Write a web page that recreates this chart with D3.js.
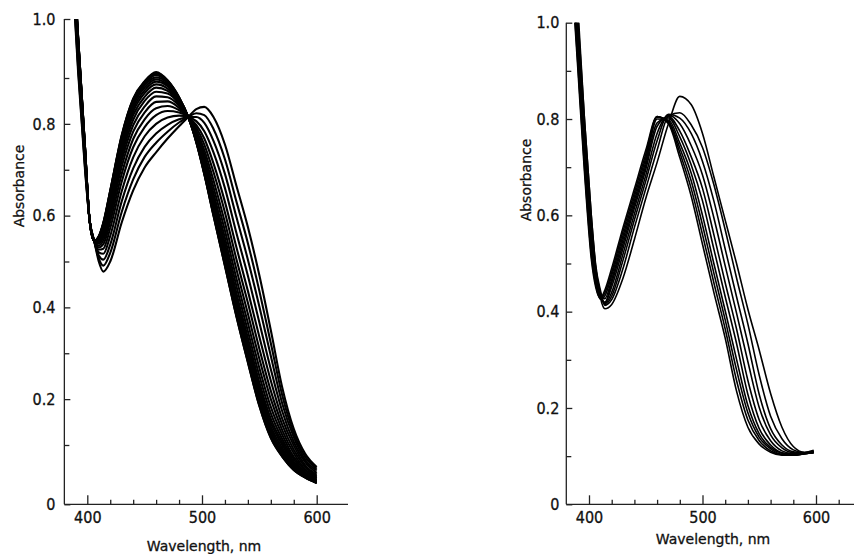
<!DOCTYPE html>
<html>
<head>
<meta charset="utf-8">
<script src="https://cdn.jsdelivr.net/npm/d3@7"></script>
<style>
  body { margin: 0; background: #fff; }
  .tick-label { font-family: "Liberation Sans Narrow", "DejaVu Sans Condensed", sans-serif; font-size: 16px; fill: #111; stroke: #111; stroke-width: 0.3; }
  .axis-title { font-family: "DejaVu Sans", sans-serif; font-size: 14px; fill: #111; stroke: #111; stroke-width: 0.3; }
</style>
</head>
<body>
<svg id="chart" width="854" height="554"></svg>
<script>
// --- data: left panel (wavelength grid + one row of absorbances per spectrum) ---
const leftWavelengths = [386, 392, 398, 402, 406, 410, 414, 420, 430, 440, 450, 460, 470, 480, 488, 495, 502, 510, 520, 530, 540, 550, 560, 570, 580, 590, 600];
const leftSpectra = [
  [1.170, 0.970, 0.750, 0.590, 0.545, 0.555, 0.585, 0.655, 0.775, 0.855, 0.893, 0.910, 0.895, 0.858, 0.815, 0.760, 0.690, 0.600, 0.490, 0.380, 0.280, 0.185, 0.115, 0.080, 0.058, 0.045, 0.036],
  [1.170, 0.970, 0.750, 0.590, 0.545, 0.555, 0.584, 0.654, 0.774, 0.854, 0.892, 0.909, 0.894, 0.858, 0.815, 0.760, 0.691, 0.601, 0.491, 0.381, 0.281, 0.186, 0.116, 0.081, 0.058, 0.045, 0.036],
  [1.169, 0.969, 0.749, 0.590, 0.545, 0.554, 0.583, 0.653, 0.772, 0.852, 0.890, 0.907, 0.893, 0.857, 0.815, 0.761, 0.692, 0.603, 0.494, 0.384, 0.284, 0.189, 0.119, 0.082, 0.059, 0.046, 0.036],
  [1.168, 0.968, 0.749, 0.590, 0.545, 0.553, 0.582, 0.650, 0.769, 0.849, 0.887, 0.905, 0.891, 0.856, 0.815, 0.762, 0.694, 0.606, 0.498, 0.389, 0.289, 0.194, 0.122, 0.084, 0.060, 0.046, 0.037],
  [1.167, 0.967, 0.748, 0.590, 0.545, 0.552, 0.580, 0.647, 0.766, 0.845, 0.884, 0.901, 0.889, 0.855, 0.815, 0.764, 0.697, 0.611, 0.503, 0.394, 0.295, 0.199, 0.127, 0.087, 0.062, 0.047, 0.037],
  [1.166, 0.966, 0.746, 0.590, 0.545, 0.551, 0.577, 0.643, 0.761, 0.840, 0.879, 0.897, 0.885, 0.853, 0.815, 0.765, 0.701, 0.616, 0.510, 0.401, 0.302, 0.206, 0.133, 0.091, 0.064, 0.048, 0.038],
  [1.164, 0.964, 0.745, 0.590, 0.545, 0.549, 0.574, 0.639, 0.755, 0.834, 0.873, 0.892, 0.882, 0.851, 0.815, 0.768, 0.705, 0.623, 0.518, 0.410, 0.311, 0.215, 0.140, 0.095, 0.066, 0.049, 0.039],
  [1.162, 0.962, 0.743, 0.590, 0.545, 0.547, 0.570, 0.633, 0.748, 0.827, 0.867, 0.886, 0.877, 0.849, 0.815, 0.770, 0.711, 0.630, 0.527, 0.420, 0.321, 0.225, 0.148, 0.100, 0.069, 0.051, 0.040],
  [1.159, 0.959, 0.741, 0.590, 0.545, 0.545, 0.566, 0.627, 0.741, 0.819, 0.859, 0.879, 0.872, 0.847, 0.815, 0.773, 0.716, 0.639, 0.538, 0.431, 0.333, 0.236, 0.157, 0.106, 0.072, 0.052, 0.041],
  [1.156, 0.956, 0.739, 0.590, 0.545, 0.542, 0.560, 0.619, 0.731, 0.809, 0.850, 0.870, 0.866, 0.844, 0.815, 0.777, 0.724, 0.649, 0.551, 0.446, 0.348, 0.251, 0.169, 0.113, 0.076, 0.054, 0.042],
  [1.153, 0.953, 0.736, 0.590, 0.545, 0.539, 0.554, 0.610, 0.720, 0.797, 0.838, 0.860, 0.858, 0.840, 0.815, 0.781, 0.733, 0.662, 0.567, 0.463, 0.366, 0.268, 0.183, 0.122, 0.080, 0.057, 0.044],
  [1.148, 0.948, 0.732, 0.590, 0.545, 0.535, 0.546, 0.599, 0.707, 0.783, 0.825, 0.848, 0.849, 0.835, 0.815, 0.786, 0.743, 0.677, 0.585, 0.483, 0.386, 0.288, 0.200, 0.132, 0.086, 0.059, 0.046],
  [1.144, 0.944, 0.728, 0.590, 0.545, 0.531, 0.538, 0.587, 0.691, 0.767, 0.810, 0.834, 0.839, 0.830, 0.815, 0.792, 0.755, 0.695, 0.607, 0.505, 0.410, 0.310, 0.218, 0.144, 0.092, 0.063, 0.048],
  [1.138, 0.938, 0.724, 0.590, 0.545, 0.526, 0.528, 0.573, 0.674, 0.749, 0.793, 0.819, 0.828, 0.825, 0.815, 0.798, 0.768, 0.714, 0.630, 0.531, 0.436, 0.336, 0.240, 0.157, 0.099, 0.066, 0.050],
  [1.132, 0.932, 0.718, 0.590, 0.545, 0.520, 0.517, 0.556, 0.653, 0.727, 0.773, 0.800, 0.814, 0.818, 0.815, 0.806, 0.784, 0.738, 0.660, 0.562, 0.469, 0.367, 0.265, 0.173, 0.107, 0.071, 0.053],
  [1.124, 0.924, 0.712, 0.590, 0.545, 0.513, 0.504, 0.537, 0.631, 0.703, 0.750, 0.779, 0.798, 0.810, 0.815, 0.815, 0.802, 0.763, 0.691, 0.597, 0.504, 0.402, 0.294, 0.190, 0.117, 0.075, 0.057],
  [1.117, 0.917, 0.706, 0.590, 0.545, 0.507, 0.491, 0.519, 0.608, 0.679, 0.728, 0.759, 0.783, 0.803, 0.815, 0.823, 0.819, 0.789, 0.723, 0.631, 0.540, 0.436, 0.322, 0.208, 0.126, 0.080, 0.060],
  [1.110, 0.910, 0.700, 0.590, 0.545, 0.500, 0.478, 0.500, 0.585, 0.655, 0.705, 0.738, 0.768, 0.795, 0.815, 0.832, 0.837, 0.815, 0.755, 0.665, 0.575, 0.470, 0.350, 0.225, 0.135, 0.085, 0.063]
];

// --- data: right panel ---
const rightWavelengths = [384, 390, 396, 402, 406, 410, 414, 420, 430, 440, 450, 460, 470, 480, 490, 500, 510, 520, 530, 540, 550, 560, 570, 580, 590, 598];
const rightSpectra = [
  [1.130, 0.910, 0.690, 0.510, 0.450, 0.428, 0.445, 0.490, 0.575, 0.655, 0.735, 0.805, 0.790, 0.720, 0.640, 0.540, 0.440, 0.345, 0.235, 0.160, 0.125, 0.108, 0.102, 0.102, 0.105, 0.107],
  [1.141, 0.921, 0.701, 0.519, 0.455, 0.428, 0.439, 0.482, 0.567, 0.647, 0.727, 0.805, 0.793, 0.730, 0.656, 0.560, 0.460, 0.364, 0.257, 0.175, 0.132, 0.111, 0.103, 0.102, 0.105, 0.107],
  [1.152, 0.932, 0.712, 0.528, 0.459, 0.426, 0.433, 0.475, 0.558, 0.639, 0.719, 0.804, 0.795, 0.740, 0.672, 0.580, 0.480, 0.383, 0.279, 0.190, 0.139, 0.115, 0.104, 0.103, 0.105, 0.107],
  [1.163, 0.943, 0.723, 0.537, 0.464, 0.430, 0.427, 0.467, 0.550, 0.631, 0.711, 0.800, 0.798, 0.750, 0.688, 0.600, 0.500, 0.402, 0.301, 0.205, 0.146, 0.118, 0.106, 0.103, 0.105, 0.108],
  [1.174, 0.954, 0.734, 0.546, 0.468, 0.432, 0.420, 0.460, 0.541, 0.623, 0.703, 0.792, 0.802, 0.763, 0.705, 0.630, 0.530, 0.431, 0.334, 0.228, 0.157, 0.123, 0.107, 0.104, 0.106, 0.108],
  [1.185, 0.965, 0.745, 0.555, 0.473, 0.434, 0.418, 0.452, 0.532, 0.615, 0.695, 0.785, 0.805, 0.775, 0.722, 0.656, 0.560, 0.460, 0.364, 0.257, 0.175, 0.132, 0.111, 0.105, 0.106, 0.108],
  [1.203, 0.983, 0.763, 0.570, 0.480, 0.437, 0.416, 0.440, 0.520, 0.603, 0.683, 0.770, 0.808, 0.790, 0.745, 0.684, 0.595, 0.495, 0.397, 0.296, 0.201, 0.144, 0.117, 0.107, 0.106, 0.109],
  [1.222, 1.002, 0.782, 0.585, 0.488, 0.440, 0.414, 0.432, 0.507, 0.591, 0.671, 0.755, 0.810, 0.802, 0.770, 0.712, 0.630, 0.530, 0.431, 0.334, 0.228, 0.157, 0.123, 0.109, 0.107, 0.109],
  [1.240, 1.020, 0.800, 0.600, 0.495, 0.445, 0.413, 0.425, 0.490, 0.575, 0.655, 0.735, 0.806, 0.813, 0.788, 0.741, 0.664, 0.570, 0.470, 0.374, 0.268, 0.183, 0.136, 0.113, 0.107, 0.110],
  [1.260, 1.040, 0.800, 0.600, 0.490, 0.430, 0.406, 0.415, 0.470, 0.550, 0.635, 0.710, 0.790, 0.847, 0.830, 0.770, 0.680, 0.590, 0.500, 0.405, 0.320, 0.230, 0.160, 0.120, 0.108, 0.112]
];

// --- axis ticks ---
const wlMajorTicks = [400, 500, 600];
const wlMinorTicksLeft = [420, 440, 460, 480, 520, 540, 560, 580];
const wlMinorTicksRight = [420, 440, 460, 480, 520, 540, 560, 580, 620];
const absMajorTicks = [0, 0.2, 0.4, 0.6, 0.8, 1.0];
const absMinorTicks = [0.1, 0.3, 0.5, 0.7, 0.9];

const svg = d3.select("#chart");
const fmtAbs = d => d === 0 ? "0" : d3.format(".1f")(d);

function drawPanel(p) {
    const x = d3.scaleLinear().domain([400, 600]).range(p.xRange);
    // the scanned axis is slightly stretched at both ends, so the y scale is piecewise
    const y = d3.scaleLinear().domain(p.yDomain).range(p.yRange);
    const x0 = x(380);
    const yBase = y(0), yTop = y(1);
    const g = svg.append("g");

    // curves, clipped at A = 1.0
    svg.append("clipPath").attr("id", "clip-" + p.id)
        .append("rect")
        .attr("x", x0).attr("y", yTop)
        .attr("width", p.xEnd - x0).attr("height", yBase - yTop);

    const line = d3.line()
        .x((d, i) => x(p.wavelengths[i]))
        .y(d => y(d))
        .curve(d3.curveMonotoneX);

    g.append("g").attr("clip-path", `url(#clip-${p.id})`)
        .selectAll("path")
        .data(p.spectra)
        .join("path")
        .attr("d", line)
        .attr("fill", "none")
        .attr("stroke", "#000")
        .attr("stroke-width", p.strokeWidth);

    // y axis (ticks point inwards)
    const yAx = g.append("g").attr("transform", `translate(${x0},0)`);
    yAx.call(d3.axisLeft(y).tickValues(absMajorTicks).tickSize(-6).tickSizeOuter(0)
        .tickPadding(p.yPad).tickFormat(fmtAbs));
    yAx.append("g").call(d3.axisLeft(y).tickValues(absMinorTicks).tickSize(-5).tickSizeOuter(0).tickFormat(""));
    yAx.selectAll(".domain").remove();
    yAx.append("line").attr("y1", yTop).attr("y2", yBase).attr("stroke", "#222").attr("stroke-width", 1.3);

    // x axis
    const xAx = g.append("g").attr("transform", `translate(0,${yBase})`);
    xAx.call(d3.axisBottom(x).tickValues(wlMajorTicks).tickSize(-9).tickSizeOuter(0).tickPadding(7));
    xAx.append("g").call(d3.axisBottom(x).tickValues(p.minorTicks).tickSize(-4.5).tickSizeOuter(0).tickFormat(""));
    xAx.selectAll(".domain").remove();
    xAx.append("line").attr("x1", x0).attr("x2", p.xEnd).attr("stroke", "#222").attr("stroke-width", 1.3);

    g.selectAll(".tick line").attr("stroke", "#222").attr("stroke-width", 1.3);
    g.selectAll(".tick text").attr("class", "tick-label").attr("font-family", null).attr("font-size", null);

    // axis titles
    g.append("text").attr("class", "axis-title")
        .attr("transform", `translate(${p.absX},${p.absY}) rotate(-90)`)
        .attr("text-anchor", "middle")
        .text("Absorbance");
    g.append("text").attr("class", "axis-title")
        .attr("x", p.wlX).attr("y", p.wlY)
        .attr("text-anchor", "middle")
        .text("Wavelength, nm");
}

drawPanel({
    id: "left",
    wavelengths: leftWavelengths, spectra: leftSpectra, strokeWidth: 2.1,
    xRange: [87.3, 316.7], xEnd: 348,
    yDomain: [0, 0.1, 0.9, 1.0], yRange: [504.3, 445, 78, 19],
    minorTicks: wlMinorTicksLeft, yPad: 9,
    absX: 24, absY: 186, wlX: 204, wlY: 551
});

drawPanel({
    id: "right",
    wavelengths: rightWavelengths, spectra: rightSpectra, strokeWidth: 1.6,
    xRange: [589, 816], xEnd: 860,
    yDomain: [0, 1.0], yRange: [504.3, 22.7],
    minorTicks: wlMinorTicksRight, yPad: 7,
    absX: 531, absY: 180, wlX: 713, wlY: 544
});
</script>
</body>
</html>
